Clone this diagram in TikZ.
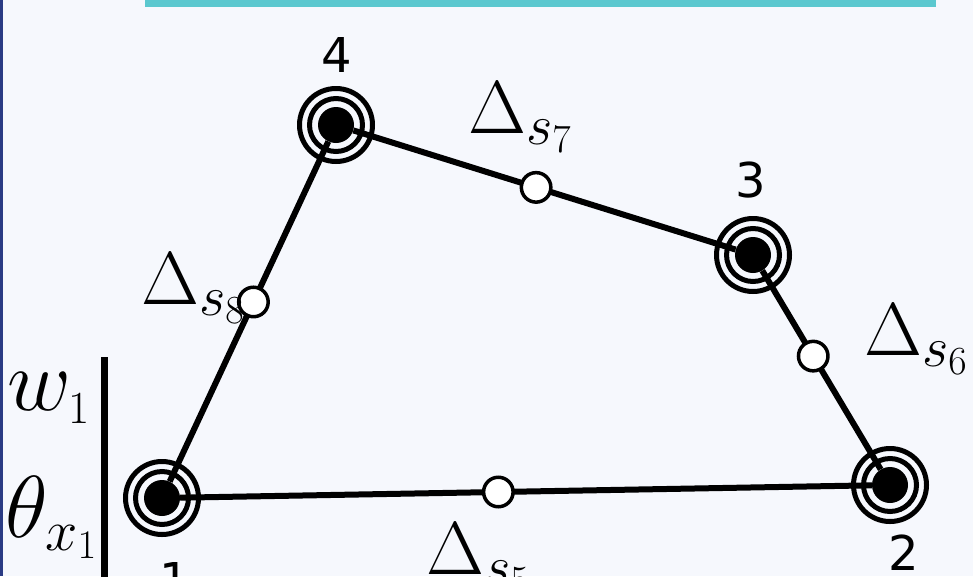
\documentclass[tikz,border=0pt]{standalone}
\usepackage{fix-cm}
\usepackage{fontspec}
\newfontfamily\numfont{DejaVu Sans}
\definecolor{bgc}{HTML}{F6F8FD}
\definecolor{tealc}{HTML}{5BC8CF}
\definecolor{bluec}{HTML}{2A3B84}
\newcommand\dlab[1]{\fontsize{75}{80}\selectfont$\Delta_{\mbox{\fontsize{57}{60}\selectfont$s_{#1}$}}$}
\tikzset{
  disk/.style={circle,fill=black,minimum size=36pt,inner sep=0pt},
  ring/.style={draw=black,line width=5pt},
  edge/.style={draw=black,line width=6pt},
  midc/.style={circle,draw=black,fill=white,line width=3.5pt,minimum size=29.5pt,inner sep=0pt},
  numlab/.style={font=\numfont\fontsize{48}{52}\selectfont,inner sep=0pt},
  mathlab/.style={inner sep=0pt,anchor=base west},
}
\begin{document}
\begin{tikzpicture}[x=1pt,y=-1pt]
\useasboundingbox (0,0) rectangle (973,576);
\begin{scope}
\clip (0,0) rectangle (973,576);
\fill[bgc] (0,0) rectangle (973,576);
\fill[bluec] (0,0) rectangle (3,576);
\fill[tealc] (145,0) rectangle (936,7);

% vertices
\coordinate (c1) at (162,498);
\coordinate (c2) at (890,485);
\coordinate (c3) at (753,255);
\coordinate (c4) at (336,125);
\foreach \c in {c1,c2,c3,c4}{
  \draw[ring] (\c) circle[radius=26.5pt];
  \draw[ring] (\c) circle[radius=36.5pt];
}
\node[disk] (n1) at (c1) {};
\node[disk] (n2) at (c2) {};
\node[disk] (n3) at (c3) {};
\node[disk] (n4) at (c4) {};

% edges
\draw[edge] (n1) -- node[midc,pos=0.46] (m5) {} (n2);
\draw[edge] (n4) -- node[midc,pos=0.478] (m7) {} (n3);
\draw[edge] (n3) -- node[midc,pos=0.43] (m6) {} (n2);
\draw[edge] (n1) -- node[midc,pos=0.528] (m8) {} (n4);

% vertex numbers
\node[numlab] (l4) at (337,55) {4};
\node[numlab] (l3) at (751,180) {3};
\node[numlab] (l2) at (904,553) {2};
\node[numlab] (l1) at (175,580) {1};

% edge labels
\node[mathlab] (d7) at (468,133) {\dlab{7}};
\node[mathlab] (d8) at (141,304) {\dlab{8}};
\node[mathlab] (d6) at (864,355) {\dlab{6}};
\node[mathlab] (d5) at (426,574) {\dlab{5}};

% left labels
\node[mathlab] (w1) at (7,410) {\fontsize{88}{90}\selectfont$w_{\mbox{\fontsize{46}{50}\selectfont 1}}$};
\node[mathlab] (th) at (5,537) {\fontsize{88}{90}\selectfont$\theta_{\mbox{\fontsize{58}{60}\selectfont$x_{1}$}}$};
\coordinate (bt) at (104,357);
\coordinate (bb) at (104,580);
\draw[line width=7pt] (bt) -- (bb);
\end{scope}
\end{tikzpicture}
\end{document}
